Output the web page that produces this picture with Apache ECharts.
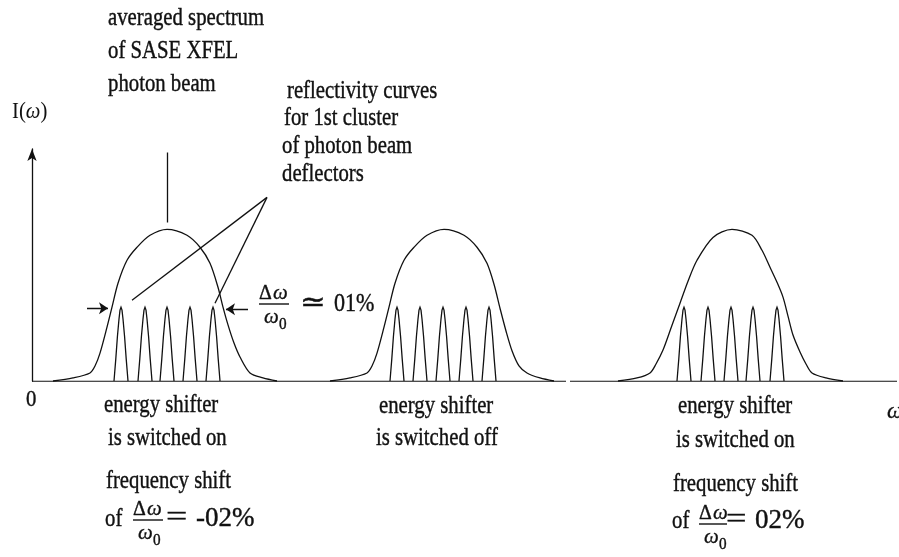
<!DOCTYPE html>
<html><head><meta charset="utf-8">
<script src="https://cdn.jsdelivr.net/npm/echarts@6/dist/echarts.min.js"></script>
<style>html,body{margin:0;padding:0;background:#fff}#c{width:899px;height:557px}</style>
</head><body><div id="c"></div>
<script>
// ---- data (x: frequency, arbitrary units from origin; y: intensity, spectrum peak = 1) ----
const spectrumLeft = [[21,0],[41,0.02],[58,0.053],[63,0.099],[68,0.184],[75,0.355],[80,0.487],[86,0.645],[95,0.796],[105,0.882],[118,0.961],[135,1.0],[155,0.961],[168,0.882],[178,0.776],[186,0.618],[191,0.487],[196,0.37],[202,0.25],[208,0.158],[218,0.053],[231,0.02],[245,0]];
const spectrumMid = [[298,0],[318,0.02],[335,0.053],[340,0.099],[345,0.184],[352,0.355],[357,0.487],[363,0.645],[372,0.796],[382,0.882],[395,0.961],[412,1.0],[432,0.961],[445,0.882],[455,0.776],[462,0.638],[468,0.48],[474,0.33],[480,0.2],[487,0.1],[495,0.053],[508,0.02],[522,0]];
const spectrumRight = [[586,0],[605,0.02],[618,0.053],[624,0.112],[631,0.204],[640,0.368],[648,0.513],[656,0.658],[665,0.796],[681,0.947],[700,1.0],[720,0.961],[730,0.862],[738,0.75],[745,0.651],[751,0.553],[756,0.428],[761,0.303],[768,0.191],[774,0.112],[780,0.053],[794,0.02],[811,0]];
const reflCentersLeft = [89,113,135,158,181];
const reflCentersMid = [365,388,411,434,457];
const reflCentersRight = [652,676,699,721,745];
const reflHeight = 0.487;
const reflProfileDx = [-7,-5.2,-3.6,-2,-1,0,1,2,3.6,5.2,7];
const reflProfileRel = [0,0.3,0.6,0.84,0.96,1,0.96,0.84,0.6,0.3,0];
const axisSpan = [0, 867];
const baselineSegments = [[[0,0],[534,0]],[[538,0],[865,0]]];
const pointerLines = [[[135,1.507],[135,1.046]],[[235,1.211],[100,0.533]],[[235,1.211],[183,0.513]]];
const widthArrows = [[[55,0.48],[76,0.48]],[[216,0.474],[194,0.474]]];

// ---- build ----
function reflCurves(centers){
  return centers.map(c => ({coords: reflProfileDx.map((d,i) => [c + d, reflHeight * reflProfileRel[i]])}));
}
const INK = '#111';
const FF = '"Liberation Serif","DejaVu Serif",serif';
const SX = 0.83;
function T(x, y, text, size, sx){
  return {type:'text', x:x, y:y, scaleX: sx||SX, silent:true,
    style:{text:text, font: (size||25)+'px '+FF, fill:INK, stroke:INK, lineWidth:0.4, align:'left', verticalAlign:'middle'}};
}
function TI(x, y, text, size){
  return {type:'text', x:x, y:y, scaleX: 0.95, silent:true,
    style:{text:text, font:'italic '+(size||23)+'px '+FF, fill:INK, stroke:INK, lineWidth:0.3, align:'left', verticalAlign:'middle'}};
}
function bar(x1, x2, y){
  return {type:'line', silent:true, shape:{x1:x1,y1:y,x2:x2,y2:y}, style:{stroke:INK, lineWidth:1.4}};
}
function frac(x, y, w){ // y = fraction bar position
  return [
    T(x, y-11, 'Δ', 21, 0.95), TI(x+14, y-11, 'ω', 22),
    bar(x, x+w, y),
    TI(x+5, y+13, 'ω', 22), T(x+20, y+21, '0', 16, 0.95)
  ];
}

const lineSeries = (data) => ({type:'line', data:data, smooth:0.3, symbol:'none', clip:false,
  lineStyle:{color:INK, width:1.3}, z:3});
const segStyle = {color:INK, width:1.3, opacity:1};

const option = {
  backgroundColor:'#fff',
  animation:false,
  grid:{left:32, right:0, top:149, bottom:176},
  xAxis:{type:'value', min:axisSpan[0], max:axisSpan[1], axisLine:{show:false}, axisTick:{show:false},
    axisLabel:{show:false}, splitLine:{show:false}},
  yAxis:{type:'value', min:0, max:1.53, axisLine:{show:true, symbol:['none','arrow'], symbolSize:[7,12],
    lineStyle:{color:INK, width:1.3}}, axisTick:{show:false}, axisLabel:{show:false}, splitLine:{show:false}},
  series:[
    lineSeries(spectrumLeft), lineSeries(spectrumMid), lineSeries(spectrumRight),
    {type:'lines', coordinateSystem:'cartesian2d', polyline:true, silent:true,
      data: reflCurves(reflCentersLeft).concat(reflCurves(reflCentersMid), reflCurves(reflCentersRight)),
      lineStyle:segStyle, z:3},
    {type:'lines', coordinateSystem:'cartesian2d', silent:true,
      data: baselineSegments.map(s => ({coords:s})), lineStyle:{color:INK, width:1.4, opacity:1}, z:2},
    {type:'lines', coordinateSystem:'cartesian2d', silent:true,
      data: pointerLines.map(s => ({coords:s})), lineStyle:segStyle, z:3},
    {type:'lines', coordinateSystem:'cartesian2d', silent:true, symbol:['none','arrow'], symbolSize:[6,9],
      data: widthArrows.map(s => ({coords:s})), lineStyle:segStyle, itemStyle:{color:INK, opacity:1}, z:3}
  ],
  graphic:[].concat(
    [T(108, 18, 'averaged spectrum'), T(108, 51, 'of SASE XFEL'), T(108, 84, 'photon beam'),
     T(287, 91, 'reflectivity curves'), T(284, 118, 'for 1st cluster'), T(282, 146, 'of photon beam'), T(282, 174, 'deflectors'),
     {type:'text', x:12, y:112, scaleX:0.9, silent:true, style:{text:'{n|I(}{i|ω}{n|)}', fill:INK, align:'left', verticalAlign:'middle',
        rich:{n:{font:'23px '+FF, fill:INK}, i:{font:'italic 23px '+FF, fill:INK}}}},
     T(26, 400, '0', 23, 0.9),
     TI(887, 412, 'ω', 24),
     T(104, 405, 'energy shifter'), T(108, 438, 'is switched on'),
     T(106, 481, 'frequency shift'),
     T(105, 519, 'of'), T(166, 518, '=', 28, 1.35), T(196, 519, '-02%', 27, 1.0),
     T(379, 406, 'energy shifter'), T(376, 438, 'is switched off'),
     T(678, 406, 'energy shifter'), T(676, 440, 'is switched on'),
     T(673, 484, 'frequency shift'),
     T(672, 521, 'of'), T(726, 520, '=', 28, 1.3), T(755, 521, '02%', 27, 1.0),
     T(300, 304, '≃', 28, 1.1), T(334, 304, '01%', 26, 0.85)
    ],
    frac(259, 304, 30), frac(133, 520, 30), frac(699, 524, 28)
  )
};
const chart = echarts.init(document.getElementById('c'), null, {renderer:'canvas'});
chart.setOption(option);
</script></body></html>
